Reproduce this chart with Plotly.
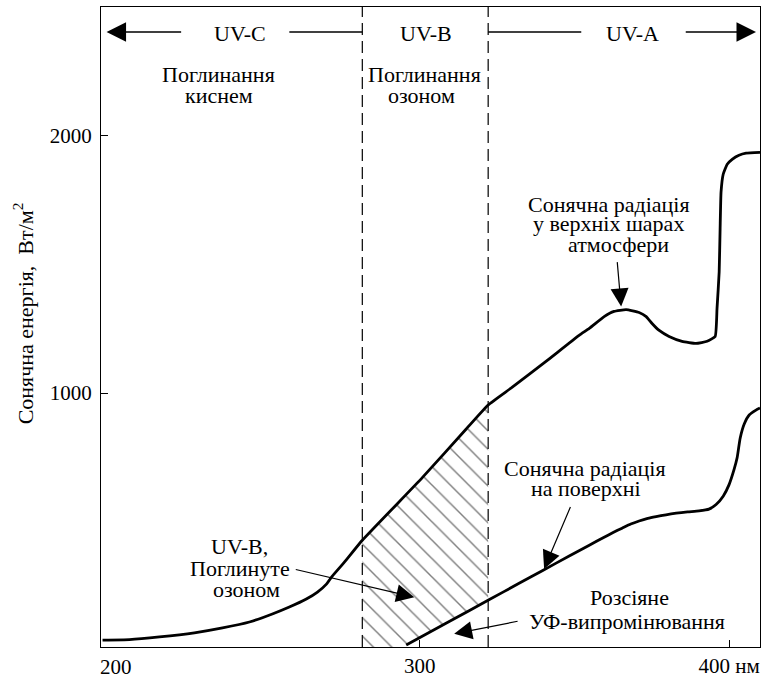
import numpy as np
import plotly.graph_objects as go

FONT = "Liberation Serif, Times New Roman, serif"

# Solar irradiance at the top of the atmosphere: wavelength (nm), energy (W/m²)
toa_nm = [197.4, 206.1, 215.8, 227.1, 236.2, 244.9, 252.3, 257.8, 263.3, 266.9,
          269.8, 271.7, 275.6, 281.4, 300.8, 315.0, 322.1, 329.9, 340.9, 351.5,
          354.8, 359.6, 362.8, 366.7, 370.9, 373.2, 375.1, 377.4, 380.6, 384.8,
          389.3, 392.9, 395.5, 396.1, 396.8, 397.1, 397.4, 398.1, 399.4, 401.0,
          403.2, 405.5, 410.0]
toa_w = [42, 44, 54, 70, 89, 112, 143, 170, 201, 228,
         259, 290, 344, 429, 672, 861, 954, 1023, 1124, 1224,
         1251, 1297, 1317, 1324, 1313, 1297, 1270, 1243, 1220, 1201,
         1193, 1201, 1220, 1328, 1471, 1637, 1780, 1849, 1888, 1907,
         1923, 1931, 1934]

# Solar irradiance at the surface
surf_nm = [295.6, 309.5, 322.5, 332.1, 339.6, 348.3, 354.8, 359.6, 362.5, 365.4,
           368.2, 370.9, 373.7, 376.4, 379.6, 382.9, 386.6, 390.3, 393.5, 395.8,
           398.1, 400.0, 401.6, 402.6, 403.6, 404.9, 406.5, 408.7, 410.0]
surf_w = [23, 114, 199, 262, 311, 368, 410, 441, 459, 476,
          492, 504, 514, 521, 528, 534, 539, 543, 550, 568,
          600, 645, 703, 749, 826, 880, 915, 934, 942]

# UV bands
band_names = ["UV-C", "UV-B", "UV-A"]
band_label_x = [241.7, 302.1, 368.7]
uvb_bounds = [281.4, 322.1]

X_RANGE = [196.9, 410.0]
Y_RANGE = [15, 2498]
x_tickvals = [300, 400]
x_ticktext = ["300", "400 нм"]
y_tickvals = [1000, 2000]
y_ticktext = ["1000", "2000"]

# Text notes: (text, x, y)
notes = [
    ("Поглинання", 234.9, 2237), ("киснем", 234.9, 2156),
    ("Поглинання", 301.5, 2237), ("озоном", 300.5, 2156),
    ("Сонячна радіація", 361.2, 1733), ("у верхніх шарах", 360.9, 1660),
    ("атмосфери", 364.1, 1577),
    ("Сонячна радіація", 353.4, 707), ("на поверхні", 353.7, 631),
    ("Розсіяне", 367.7, 207), ("УФ-випромінювання", 366.9, 114),
    ("UV-B,", 241.7, 405), ("Поглинуте", 241.7, 318), ("озоном", 244.0, 237),
]

# Callout arrows: (tip_x, tip_y, tail_x, tail_y)
callouts = [
    (365.1, 1336, 363.8, 1514),
    (340.2, 318, 348.9, 564),
    (311.1, 66, 332.1, 116),
    (298.2, 208, 259.4, 317),
]

fig = go.Figure()

# Hatched area between the two curves inside the UV-B band
lo, hi = uvb_bounds
upper = [(x, y) for x, y in zip(toa_nm, toa_w) if lo <= x <= hi]
lower = [(x, y) for x, y in zip(surf_nm, surf_w) if lo <= x <= hi][::-1]
surf_at_hi = float(np.interp(hi, surf_nm, surf_w))
poly_x = [p[0] for p in upper] + [hi] + [p[0] for p in lower] + [surf_nm[0], lo, lo]
poly_y = [p[1] for p in upper] + [surf_at_hi] + [p[1] for p in lower] + [Y_RANGE[0], Y_RANGE[0], upper[0][1]]
fig.add_trace(go.Scatter(
    x=poly_x, y=poly_y, mode="lines", fill="toself",
    line=dict(width=0, color="rgba(0,0,0,0)"),
    fillcolor="rgba(0,0,0,0)",
    fillpattern=dict(shape="\\", fgcolor="black", bgcolor="rgba(0,0,0,0)",
                     size=13, solidity=0.11),
    hoverinfo="skip",
))

fig.add_trace(go.Scatter(x=toa_nm, y=toa_w, mode="lines",
                         line=dict(color="black", width=2.8, shape="spline", smoothing=0.4)))
fig.add_trace(go.Scatter(x=surf_nm, y=surf_w, mode="lines",
                         line=dict(color="black", width=2.8, shape="spline", smoothing=0.6)))

# UV-B band boundaries
for xb in uvb_bounds:
    fig.add_shape(type="line", xref="x", yref="paper", x0=xb, x1=xb, y0=0, y1=1,
                  line=dict(color="black", width=1.2, dash="12px,6px"))

annotations = []
BAND_Y = 2401
# band arrows along the top
fig.add_shape(type="line", xref="x", yref="y", x0=257.8, x1=lo, y0=BAND_Y, y1=BAND_Y,
              line=dict(color="black", width=1.3))
fig.add_shape(type="line", xref="x", yref="y", x0=hi, x1=352.2, y0=BAND_Y, y1=BAND_Y,
              line=dict(color="black", width=1.3))
for tip, tail in [(198.7, 223.3), (408.7, 385.5)]:
    annotations.append(dict(x=tip, y=BAND_Y, ax=tail, ay=BAND_Y, xref="x", yref="y",
                            axref="x", ayref="y", text="", showarrow=True,
                            arrowhead=2, arrowsize=3.0, arrowwidth=1.3, arrowcolor="black"))
for name, bx in zip(band_names, band_label_x):
    annotations.append(dict(x=bx, y=2394, xref="x", yref="y", text=name, showarrow=False,
                            font=dict(size=22)))

for text, tx, ty in notes:
    annotations.append(dict(x=tx, y=ty, xref="x", yref="y", text=text, showarrow=False,
                            font=dict(size=22), borderpad=0))

for tipx, tipy, tailx, taily in callouts:
    annotations.append(dict(x=tipx, y=tipy, ax=tailx, ay=taily, xref="x", yref="y",
                            axref="x", ayref="y", text="", showarrow=True,
                            arrowhead=2, arrowsize=3.0, arrowwidth=1.2, arrowcolor="black"))

# first x label sits at the left edge of the frame
annotations.append(dict(x=200, y=0, xref="x", yref="paper", yanchor="top", yshift=-6,
                        xshift=5, text="200", showarrow=False, font=dict(size=21)))

# y axis title
annotations.append(dict(x=-0.117, y=1309, xref="paper", yref="y", xanchor="center",
                        yanchor="middle", textangle=-90,
                        text="Сонячна енергія,  Вт/м<sup>2</sup>", showarrow=False,
                        font=dict(size=22)))

fig.update_layout(
    width=764, height=681,
    margin=dict(l=101, r=3, t=7, b=31),
    paper_bgcolor="white", plot_bgcolor="white",
    showlegend=False,
    font=dict(family=FONT, size=22, color="black"),
    annotations=annotations,
    xaxis=dict(range=X_RANGE, tickvals=x_tickvals, ticktext=x_ticktext,
               ticks="inside", ticklen=7, tickwidth=1.2, tickcolor="black",
               showline=True, mirror=True, linecolor="black", linewidth=1.3,
               showgrid=False, zeroline=False, tickfont=dict(size=21)),
    yaxis=dict(range=Y_RANGE, tickvals=y_tickvals, ticktext=y_ticktext,
               ticks="inside", ticklen=7, tickwidth=1.2, tickcolor="black",
               showline=True, mirror=True, linecolor="black", linewidth=1.3,
               showgrid=False, zeroline=False, tickfont=dict(size=21),
               ticklabelstandoff=4),
)

fig.write_html("out.html")
